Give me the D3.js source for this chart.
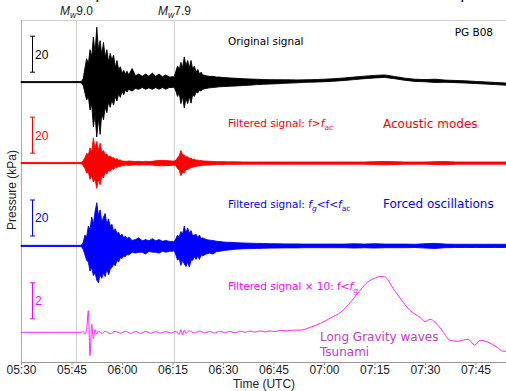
<!DOCTYPE html>
<html>
<head>
<meta charset="utf-8">
<script src="https://cdn.jsdelivr.net/npm/d3@7"></script>
<style>
  body { margin: 0; background: #fff; }
  svg { display: block; }
  text { font-family: "Liberation Sans", Arial, sans-serif; }
  .note { font-family: "DejaVu Sans", sans-serif; }
</style>
</head>
<body>
<svg id="chart" width="506" height="391"></svg>
<script>
// minutes after 05:30 UTC (shared by the three envelope traces)
const tMin = [0, 17.5, 18, 18.5, 19, 19.5, 20, 20.5, 21, 21.5,
  22, 22.5, 23, 23.5, 24, 24.5, 25, 25.5, 26, 26.5,
  27, 27.5, 28, 28.5, 29, 29.5, 30, 30.5, 31, 31.5,
  32, 33, 34, 35, 36, 37, 38, 39, 40, 41,
  42, 43, 44, 45, 45.5, 46, 46.5, 47, 47.5, 48,
  48.5, 49, 49.5, 50, 50.5, 51, 51.5, 52, 52.5, 53,
  53.5, 54, 55, 56, 57, 58, 59, 60, 61, 62,
  64, 66, 68, 70, 72, 74, 76, 78, 80, 82,
  84, 86, 88, 90, 93, 96, 99, 102, 105, 108,
  111, 114, 117, 120, 123, 126, 129, 132, 135, 138,
  141, 144, 147, 150];

// original signal envelope (kPa)
const origUp = [0.3, 0.3, 0.5, 2, 8, 13, 10, 18, 14, 25,
  16, 30.5, 18, 23, 15, 22, 14, 18, 11, 16,
  12, 15, 8, 12, 7, 8.5, 5, 6.5, 4.5, 6,
  4, 7.5, 3.5, 4.5, 3.2, 4.5, 3.2, 5, 3.2, 4.5,
  3, 4, 2.8, 3, 2.8, 6, 9, 7, 11, 8,
  14, 9, 12, 8, 12, 7, 9, 5.5, 7, 4.5,
  5.5, 4, 3.5, 3.2, 3.2, 2.8, 2.8, 2.5, 2.5, 2.3,
  2.1, 1.9, 1.7, 1.6, 1.4, 1.35, 1.3, 1.3, 1.25, 1.2,
  1.25, 1.35, 1.45, 1.6, 1.9, 2.3, 2.8, 3.3, 3.7, 4.0,
  3.1, 2.2, 1.6, 1.4, 1.6, 1.1, 0.9, 0.7, 0.4, 0.1,
  -0.2, -0.5, -0.7, -0.8];
const origLo = [-0.3, -0.3, -0.5, -2, -6, -10, -8, -15.5, -12, -25,
  -18, -30.5, -20, -29, -17, -21, -14, -17, -11, -14,
  -10, -12.8, -8, -10.5, -6.5, -8.5, -5, -7, -4.5, -5.5,
  -4, -5, -3.5, -4, -3, -4, -3.2, -4, -3, -4,
  -3, -4, -3, -3, -2.8, -5, -8, -6, -12, -8,
  -14.4, -9, -12, -8, -11.7, -7, -8, -5.5, -6, -4.5,
  -5, -4, -3.5, -3.2, -3, -2.8, -2.6, -2.5, -2.4, -2.3,
  -2.1, -1.9, -1.7, -1.4, -1.2, -1.05, -0.9, -0.7, -0.55, -0.4,
  -0.15, -0.05, 0.05, 0.2, 0.5, 0.9, 1.4, 1.9, 2.3, 2.6,
  1.9, 1.0, 0.4, 0.2, -0.2, -0.1, -0.3, -0.5, -0.8, -1.1,
  -1.4, -1.7, -1.9, -2.0];

// filtered f > f_ac (kPa)
const acUp = [0.3, 0.3, 0.5, 1.5, 3, 5.5, 4.5, 8.5, 6, 14,
  8, 12, 7, 11, 6, 7, 4.5, 5, 3.5, 4,
  2.8, 3, 2, 2.5, 1.6, 1.7, 1.1, 1.1, 1.0, 1.0,
  1.2, 1.0, 0.9, 1.0, 0.8, 1.0, 0.9, 1.0, 1.3, 1.4,
  1.5, 1.4, 1.3, 1.1, 1.2, 1.5, 3, 4, 7, 4.5,
  4.5, 3.5, 3.5, 2.5, 2.8, 2, 2.2, 1.6, 1.7, 1.3,
  1.4, 1.2, 1.1, 1.0, 0.9, 0.8, 0.8, 0.8, 0.7, 0.7,
  0.7, 0.6, 0.6, 0.6, 0.6, 0.6, 0.6, 0.6, 0.6, 0.6,
  0.6, 0.6, 0.6, 0.6, 0.6, 0.6, 0.6, 0.6, 0.8, 0.9,
  0.8, 0.6, 0.6, 0.6, 0.8, 0.9, 0.6, 0.6, 0.6, 0.6,
  0.6, 0.6, 0.6, 0.6];
const acLo = [-0.3, -0.3, -0.5, -1.5, -3, -5.5, -5, -9, -7, -10.5,
  -9, -14, -9, -12, -7, -8.3, -5, -6, -4, -4.5,
  -3, -3.5, -2.2, -2.5, -1.8, -2, -1.2, -1.3, -1.1, -1.2,
  -1.3, -1.1, -1.0, -1.1, -0.9, -1.0, -1.0, -1.1, -1.4, -1.5,
  -1.5, -1.4, -1.3, -1.2, -1.2, -1.5, -3, -4, -7, -5,
  -5.5, -3.5, -3.5, -3, -2.5, -2.3, -2, -1.8, -1.6, -1.5,
  -1.4, -1.2, -1.1, -1.0, -0.9, -0.8, -0.8, -0.8, -0.7, -0.7,
  -0.7, -0.6, -0.6, -0.6, -0.6, -0.6, -0.6, -0.6, -0.6, -0.6,
  -0.6, -0.6, -0.6, -0.6, -0.6, -0.6, -0.6, -0.6, -0.8, -0.9,
  -0.8, -0.6, -0.6, -0.6, -0.8, -0.9, -0.6, -0.6, -0.6, -0.6,
  -0.6, -0.6, -0.6, -0.6];

// filtered f_g < f < f_ac (kPa)
const forcedUp = [0.3, 0.3, 0.5, 2, 6, 5, 11, 9, 16, 12,
  19, 24, 17, 20, 13, 16, 18, 12, 15, 11,
  12, 8, 9.5, 7, 7.5, 5.5, 6.5, 4.5, 5.5, 4,
  5, 3, 3.5, 4.5, 2.8, 3.5, 2.8, 4, 2.8, 3.5,
  2.6, 3, 2.5, 2.5, 2.2, 4, 6, 5, 8, 6.5,
  11, 7, 10, 7, 8.5, 5.5, 6, 6.5, 4.5, 6,
  4, 4.5, 3.5, 3.2, 3, 2.6, 2.4, 2.2, 2, 2,
  1.8, 1.6, 1.5, 1.4, 1.3, 1.2, 1.2, 1.1, 1.1, 1.1,
  1.0, 1.0, 1.0, 1.0, 1.0, 1.0, 1.2, 1.0, 1.2, 1.0,
  1.0, 1.0, 0.9, 1.2, 1.4, 1.0, 0.9, 0.9, 0.9, 0.9,
  0.9, 0.9, 0.9, 0.9];
const forcedLo = [-0.3, -0.3, -0.5, -2, -5, -8, -9, -14, -12, -16.5,
  -15, -19, -20.5, -16, -18, -15, -17, -13, -16, -13,
  -12, -10, -11, -8, -9, -6.5, -7, -5.5, -6, -4.5,
  -5, -3.5, -4, -3.5, -3.5, -4.5, -3, -3.5, -3.5, -4,
  -3, -3.5, -3, -3, -2.5, -5, -8, -7, -10.8, -8,
  -10, -11.5, -9, -11.7, -8, -8, -6, -7.5, -5.5, -7.5,
  -5, -5.5, -4.5, -4, -4.5, -3.2, -3, -2.6, -2.4, -2.2,
  -1.8, -1.6, -1.5, -1.4, -1.3, -1.2, -1.2, -1.1, -1.1, -1.1,
  -1.0, -1.0, -1.0, -1.0, -1.0, -1.0, -1.2, -1.0, -1.2, -1.0,
  -1.0, -1.0, -0.9, -1.2, -1.4, -1.0, -0.9, -0.9, -0.9, -0.9,
  -0.9, -0.9, -0.9, -0.9];

// filtered f < f_g, shown x10 (minutes after 05:30, kPa)
const gravT = [0, 18, 18.5, 19, 19.5, 20, 20.5, 21, 21.5, 22,
  22.5, 23, 24, 25, 26.5, 28, 29.5, 31, 32.5, 34,
  35.5, 37, 38.5, 40, 41.5, 43, 44.5, 46, 47, 47.5,
  48, 48.5, 49, 50, 51.5, 53, 54.5, 56, 57.5, 59,
  60.5, 62, 63.5, 65, 66.5, 68, 69.5, 71, 72.5, 74,
  75.5, 77, 79, 81, 83, 86, 89, 92, 95, 98,
  101, 103, 105, 106.5, 108, 110.5, 113, 115.5, 118.5, 120,
  121.5, 123, 125.3, 127.4, 129.5, 132.8, 134.8, 136.3, 138.7, 141.4,
  143.2, 146, 150];
const gravV = [0, 0, 0.05, -0.1, 0.15, 1.2, -1.3, 0.45, -0.35, 0.15,
  -0.1, 0.08, -0.08, 0.06, -0.08, 0.06, -0.05, 0.06, -0.06, 0.05,
  -0.06, 0.05, -0.05, 0.04, -0.05, 0.04, -0.04, 0.05, -0.12, 0.15,
  -0.15, 0.12, -0.05, 0.08, -0.04, 0.07, -0.03, 0.05, -0.04, 0.06,
  -0.02, 0.05, -0.03, 0.06, 0, 0.07, 0.01, 0.08, 0.02, 0.08,
  0.04, 0.1, 0.08, 0.12, 0.12, 0.28, 0.5, 0.8, 1.12, 1.7,
  2.4, 2.8, 3.0, 3.1, 3.08, 2.45, 1.8, 1.22, 0.83, 0.6,
  0.72, 0.55, 0.05, -0.44, -0.5, -0.39, -0.72, -0.44, -0.55, -0.83,
  -1.05, -1.05, -1.1];

const tickLabels = ['05:30', '05:45', '06:00', '06:15', '06:30', '06:45',
  '07:00', '07:15', '07:30', '07:45'];
const eventTimes = ['05:46:24', '06:15:34'];
const eventMags = ['9.0', '7.9'];

const day = '2011-03-11T';
const toDate = (m) => new Date(Date.parse(day + '05:30:00Z') + m * 60000);
const parseClock = (s) => new Date(Date.parse(day + (s.length === 5 ? s + ':00' : s) + 'Z'));

const svg = d3.select('#chart');
const margin = { top: 20, left: 21, bottom: 362 };

const x = d3.scaleUtc()
  .domain([parseClock('05:30'), parseClock('08:00')])
  .range([margin.left, 526]);
// stacked traces share one kPa scale, 20 kPa = 36 px
const y = d3.scaleLinear().domain([0, 190]).range([margin.bottom, margin.top]);

function rich(sel, parts) {
  let shift = 0;
  parts.forEach((p) => {
    const ts = sel.append('tspan').text(p.s);
    const want = p.sub ? 3 : 0;
    if (want !== shift) {
      ts.attr('dy', want - shift);
      shift = want;
    }
    if (p.sub) ts.attr('font-size', '0.72em');
    if (p.it) ts.attr('font-style', 'italic');
  });
}

// frame
svg.append('line')
  .attr('x1', margin.left).attr('x2', 506)
  .attr('y1', margin.top + 0.5).attr('y2', margin.top + 0.5)
  .attr('stroke', '#d0d0d0');
svg.append('line')
  .attr('x1', margin.left + 0.5).attr('x2', margin.left + 0.5)
  .attr('y1', margin.top).attr('y2', margin.bottom)
  .attr('stroke', '#aaa');

// event lines and magnitudes
eventTimes.forEach((t, i) => {
  const ex = Math.round(x(parseClock(t))) + 0.5;
  svg.append('line')
    .attr('x1', ex).attr('x2', ex)
    .attr('y1', margin.top).attr('y2', margin.bottom)
    .attr('stroke', '#cfcfcf');
  const lab = svg.append('text')
    .attr('x', ex).attr('y', 15)
    .attr('text-anchor', 'middle')
    .attr('font-size', 12).attr('fill', '#222');
  rich(lab, [{ s: 'M', it: true }, { s: 'w', it: true, sub: true }, { s: eventMags[i] }]);
});

const panels = [
  { up: origUp, lo: origLo, base: 155.5, color: '#000' },
  { up: acUp, lo: acLo, base: 110.5, color: '#ff0000' },
  { up: forcedUp, lo: forcedLo, base: 64.5, color: '#0000ff' }
];

const area = d3.area()
  .x((d) => x(toDate(d.t)))
  .y0((d) => y(d.base + d.lo))
  .y1((d) => y(d.base + d.up));

panels.forEach((p) => {
  const rows = tMin.map((t, i) => ({ t, up: p.up[i], lo: p.lo[i], base: p.base }));
  svg.append('path')
    .datum(rows)
    .attr('d', area)
    .attr('fill', p.color)
    .attr('stroke', p.color)
    .attr('stroke-width', 0.9)
    .attr('stroke-linejoin', 'round');
});

// long period trace, x10
const gravLine = d3.line()
  .x((d) => x(toDate(d.t)))
  .y((d) => y(16.5 + 10 * d.v))
  .curve(d3.curveMonotoneX);
svg.append('path')
  .datum(gravT.map((t, i) => ({ t, v: gravV[i] })))
  .attr('d', gravLine)
  .attr('fill', 'none')
  .attr('stroke', '#ff22ff')
  .attr('stroke-width', 1);

// scale bars
const bars = [
  { base: 155.5, lo: 5.5, len: 20, label: '20', color: '#000' },
  { base: 110.5, lo: 5.5, len: 20, label: '20', color: '#ff0000' },
  { base: 64.5, lo: 5.5, len: 20, label: '20', color: '#0000ff' },
  { base: 16.5, lo: 7.5, len: 20, label: '2', color: '#ff00ff' }
];
bars.forEach((b) => {
  const y0 = y(b.base + b.lo);
  const y1 = y(b.base + b.lo + b.len);
  const g = svg.append('g').attr('stroke', b.color).attr('stroke-width', 1);
  g.append('line').attr('x1', 32.5).attr('x2', 32.5).attr('y1', y0).attr('y2', y1);
  g.append('line').attr('x1', 30).attr('x2', 35).attr('y1', y0).attr('y2', y0);
  g.append('line').attr('x1', 30).attr('x2', 35).attr('y1', y1).attr('y2', y1);
  svg.append('text')
    .attr('x', 35).attr('y', (y0 + y1) / 2).attr('dy', '0.36em')
    .attr('font-size', 12).attr('fill', b.color)
    .text(b.label);
});

// annotations
const noteX = 228;
const modeX = 383;
const n1 = svg.append('text').attr('class', 'note').attr('x', noteX).attr('y', 45)
  .attr('font-size', 10.5).attr('fill', '#000');
rich(n1, [{ s: 'Original signal' }]);
const n2 = svg.append('text').attr('class', 'note').attr('x', noteX).attr('y', 127)
  .attr('font-size', 10.5).attr('fill', '#ff0000');
rich(n2, [{ s: 'Filtered signal: f>' }, { s: 'f', it: true }, { s: 'ac', sub: true }]);
const n3 = svg.append('text').attr('class', 'note').attr('x', noteX).attr('y', 207.5)
  .attr('font-size', 10.5).attr('fill', '#0000ff');
rich(n3, [{ s: 'Filtered signal: ' }, { s: 'f', it: true }, { s: 'g', it: true, sub: true },
  { s: '<f<' }, { s: 'f', it: true }, { s: 'ac', sub: true }]);
const n4 = svg.append('text').attr('class', 'note').attr('x', noteX).attr('y', 290)
  .attr('font-size', 10.5).attr('fill', '#ff00ff');
rich(n4, [{ s: 'Filtered signal \u00d7 10: f<' }, { s: 'f', it: true }, { s: 'g', it: true, sub: true }]);

svg.append('text').attr('class', 'note').attr('x', modeX).attr('y', 127.5)
  .attr('font-size', 12).attr('fill', '#ff0000').text('Acoustic modes');
svg.append('text').attr('class', 'note').attr('x', modeX).attr('y', 207.5)
  .attr('font-size', 12).attr('fill', '#0000ff').text('Forced oscillations');
svg.append('text').attr('class', 'note').attr('x', 320).attr('y', 341)
  .attr('font-size', 12).attr('fill', '#c43ac4').text('Long Gravity waves');
svg.append('text').attr('class', 'note').attr('x', 320).attr('y', 356)
  .attr('font-size', 12).attr('fill', '#c43ac4').text('Tsunami');
svg.append('text').attr('class', 'note').attr('x', 493).attr('y', 36)
  .attr('text-anchor', 'end').attr('font-size', 10.5).attr('fill', '#000').text('PG B08');

// bits of the cropped title above the figure
svg.append('text').attr('x', 95.5).attr('y', -1).attr('font-size', 16).attr('fill', '#000').text('p');
svg.append('text').attr('x', 460.5).attr('y', -1).attr('font-size', 16).attr('fill', '#000').text('p');

// x axis
const xAxis = d3.axisBottom(x)
  .tickValues(tickLabels.map(parseClock))
  .tickFormat(d3.utcFormat('%H:%M'))
  .tickSize(3)
  .tickSizeOuter(0);
const gx = svg.append('g')
  .attr('transform', `translate(0,${margin.bottom})`)
  .call(xAxis);
gx.select('.domain').attr('stroke', '#999');
gx.selectAll('.tick line').attr('stroke', '#999');
gx.selectAll('.tick text')
  .attr('font-family', '"Liberation Sans", Arial, sans-serif')
  .attr('font-size', 12).attr('fill', '#222').attr('dy', '0.5em');

svg.append('text')
  .attr('x', 264).attr('y', 388)
  .attr('text-anchor', 'middle').attr('font-size', 12).attr('fill', '#222')
  .text('Time (UTC)');
svg.append('text')
  .attr('transform', 'translate(16,190) rotate(-90)')
  .attr('text-anchor', 'middle').attr('font-size', 12).attr('fill', '#222')
  .text('Pressure (kPa)');
</script>
</body>
</html>
